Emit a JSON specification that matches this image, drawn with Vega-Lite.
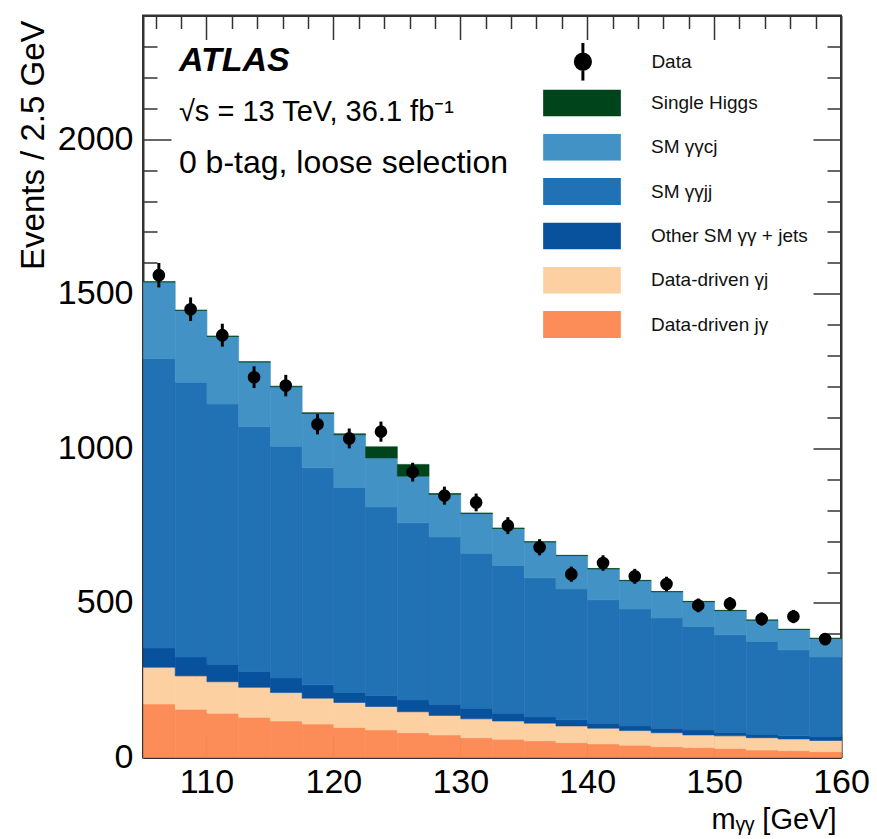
{
  "$schema": "https://vega.github.io/schema/vega-lite/v6.json",
  "width": 698,
  "height": 742,
  "autosize": {"type": "none"},
  "padding": {"left": 143, "top": 15.5, "right": 36, "bottom": 81.5},
  "background": "white",
  "datasets": {
    "bkg": [
      {"x0":105,"x1":107.5,"c":"Data-driven jγ","o":0,"v":173},{"x0":105,"x1":107.5,"c":"Data-driven γj","o":1,"v":119},{"x0":105,"x1":107.5,"c":"Other SM γγ + jets","o":2,"v":62},{"x0":105,"x1":107.5,"c":"SM γγjj","o":3,"v":936},{"x0":105,"x1":107.5,"c":"SM γγcj","o":4,"v":248},{"x0":105,"x1":107.5,"c":"Single Higgs","o":5,"v":1},
      {"x0":107.5,"x1":110,"c":"Data-driven jγ","o":0,"v":156},{"x0":107.5,"x1":110,"c":"Data-driven γj","o":1,"v":108},{"x0":107.5,"x1":110,"c":"Other SM γγ + jets","o":2,"v":61},{"x0":107.5,"x1":110,"c":"SM γγjj","o":3,"v":889},{"x0":107.5,"x1":110,"c":"SM γγcj","o":4,"v":232},{"x0":107.5,"x1":110,"c":"Single Higgs","o":5,"v":1},
      {"x0":110,"x1":112.5,"c":"Data-driven jγ","o":0,"v":143},{"x0":110,"x1":112.5,"c":"Data-driven γj","o":1,"v":102},{"x0":110,"x1":112.5,"c":"Other SM γγ + jets","o":2,"v":57},{"x0":110,"x1":112.5,"c":"SM γγjj","o":3,"v":841},{"x0":110,"x1":112.5,"c":"SM γγcj","o":4,"v":219},{"x0":110,"x1":112.5,"c":"Single Higgs","o":5,"v":1},
      {"x0":112.5,"x1":115,"c":"Data-driven jγ","o":0,"v":130},{"x0":112.5,"x1":115,"c":"Data-driven γj","o":1,"v":97},{"x0":112.5,"x1":115,"c":"Other SM γγ + jets","o":2,"v":51},{"x0":112.5,"x1":115,"c":"SM γγjj","o":3,"v":792},{"x0":112.5,"x1":115,"c":"SM γγcj","o":4,"v":209},{"x0":112.5,"x1":115,"c":"Single Higgs","o":5,"v":1},
      {"x0":115,"x1":117.5,"c":"Data-driven jγ","o":0,"v":118},{"x0":115,"x1":117.5,"c":"Data-driven γj","o":1,"v":92},{"x0":115,"x1":117.5,"c":"Other SM γγ + jets","o":2,"v":47},{"x0":115,"x1":117.5,"c":"SM γγjj","o":3,"v":750},{"x0":115,"x1":117.5,"c":"SM γγcj","o":4,"v":192},{"x0":115,"x1":117.5,"c":"Single Higgs","o":5,"v":2},
      {"x0":117.5,"x1":120,"c":"Data-driven jγ","o":0,"v":108},{"x0":117.5,"x1":120,"c":"Data-driven γj","o":1,"v":84},{"x0":117.5,"x1":120,"c":"Other SM γγ + jets","o":2,"v":43},{"x0":117.5,"x1":120,"c":"SM γγjj","o":3,"v":702},{"x0":117.5,"x1":120,"c":"SM γγcj","o":4,"v":176},{"x0":117.5,"x1":120,"c":"Single Higgs","o":5,"v":2},
      {"x0":120,"x1":122.5,"c":"Data-driven jγ","o":0,"v":97},{"x0":120,"x1":122.5,"c":"Data-driven γj","o":1,"v":81},{"x0":120,"x1":122.5,"c":"Other SM γγ + jets","o":2,"v":32},{"x0":120,"x1":122.5,"c":"SM γγjj","o":3,"v":663},{"x0":120,"x1":122.5,"c":"SM γγcj","o":4,"v":171},{"x0":120,"x1":122.5,"c":"Single Higgs","o":5,"v":3},
      {"x0":122.5,"x1":125,"c":"Data-driven jγ","o":0,"v":89},{"x0":122.5,"x1":125,"c":"Data-driven γj","o":1,"v":76},{"x0":122.5,"x1":125,"c":"Other SM γγ + jets","o":2,"v":35},{"x0":122.5,"x1":125,"c":"SM γγjj","o":3,"v":610},{"x0":122.5,"x1":125,"c":"SM γγcj","o":4,"v":159},{"x0":122.5,"x1":125,"c":"Single Higgs","o":5,"v":36},
      {"x0":125,"x1":127.5,"c":"Data-driven jγ","o":0,"v":80},{"x0":125,"x1":127.5,"c":"Data-driven γj","o":1,"v":68},{"x0":125,"x1":127.5,"c":"Other SM γγ + jets","o":2,"v":38},{"x0":125,"x1":127.5,"c":"SM γγjj","o":3,"v":573},{"x0":125,"x1":127.5,"c":"SM γγcj","o":4,"v":151},{"x0":125,"x1":127.5,"c":"Single Higgs","o":5,"v":38},
      {"x0":127.5,"x1":130,"c":"Data-driven jγ","o":0,"v":73},{"x0":127.5,"x1":130,"c":"Data-driven γj","o":1,"v":63},{"x0":127.5,"x1":130,"c":"Other SM γγ + jets","o":2,"v":36},{"x0":127.5,"x1":130,"c":"SM γγjj","o":3,"v":541},{"x0":127.5,"x1":130,"c":"SM γγcj","o":4,"v":138},{"x0":127.5,"x1":130,"c":"Single Higgs","o":5,"v":3},
      {"x0":130,"x1":132.5,"c":"Data-driven jγ","o":0,"v":64},{"x0":130,"x1":132.5,"c":"Data-driven γj","o":1,"v":61},{"x0":130,"x1":132.5,"c":"Other SM γγ + jets","o":2,"v":34},{"x0":130,"x1":132.5,"c":"SM γγjj","o":3,"v":502},{"x0":130,"x1":132.5,"c":"SM γγcj","o":4,"v":128},{"x0":130,"x1":132.5,"c":"Single Higgs","o":5,"v":2},
      {"x0":132.5,"x1":135,"c":"Data-driven jγ","o":0,"v":59},{"x0":132.5,"x1":135,"c":"Data-driven γj","o":1,"v":59},{"x0":132.5,"x1":135,"c":"Other SM γγ + jets","o":2,"v":25},{"x0":132.5,"x1":135,"c":"SM γγjj","o":3,"v":478},{"x0":132.5,"x1":135,"c":"SM γγcj","o":4,"v":120},{"x0":132.5,"x1":135,"c":"Single Higgs","o":5,"v":1},
      {"x0":135,"x1":137.5,"c":"Data-driven jγ","o":0,"v":54},{"x0":135,"x1":137.5,"c":"Data-driven γj","o":1,"v":57},{"x0":135,"x1":137.5,"c":"Other SM γγ + jets","o":2,"v":20},{"x0":135,"x1":137.5,"c":"SM γγjj","o":3,"v":450},{"x0":135,"x1":137.5,"c":"SM γγcj","o":4,"v":116},{"x0":135,"x1":137.5,"c":"Single Higgs","o":5,"v":1},
      {"x0":137.5,"x1":140,"c":"Data-driven jγ","o":0,"v":48},{"x0":137.5,"x1":140,"c":"Data-driven γj","o":1,"v":54},{"x0":137.5,"x1":140,"c":"Other SM γγ + jets","o":2,"v":20},{"x0":137.5,"x1":140,"c":"SM γγjj","o":3,"v":423},{"x0":137.5,"x1":140,"c":"SM γγcj","o":4,"v":108},{"x0":137.5,"x1":140,"c":"Single Higgs","o":5,"v":1},
      {"x0":140,"x1":142.5,"c":"Data-driven jγ","o":0,"v":44},{"x0":140,"x1":142.5,"c":"Data-driven γj","o":1,"v":51},{"x0":140,"x1":142.5,"c":"Other SM γγ + jets","o":2,"v":16},{"x0":140,"x1":142.5,"c":"SM γγjj","o":3,"v":399},{"x0":140,"x1":142.5,"c":"SM γγcj","o":4,"v":100},{"x0":140,"x1":142.5,"c":"Single Higgs","o":5,"v":1},
      {"x0":142.5,"x1":145,"c":"Data-driven jγ","o":0,"v":40},{"x0":142.5,"x1":145,"c":"Data-driven γj","o":1,"v":47},{"x0":142.5,"x1":145,"c":"Other SM γγ + jets","o":2,"v":15},{"x0":142.5,"x1":145,"c":"SM γγjj","o":3,"v":378},{"x0":142.5,"x1":145,"c":"SM γγcj","o":4,"v":92},{"x0":142.5,"x1":145,"c":"Single Higgs","o":5,"v":1},
      {"x0":145,"x1":147.5,"c":"Data-driven jγ","o":0,"v":35},{"x0":145,"x1":147.5,"c":"Data-driven γj","o":1,"v":45},{"x0":145,"x1":147.5,"c":"Other SM γγ + jets","o":2,"v":15},{"x0":145,"x1":147.5,"c":"SM γγjj","o":3,"v":356},{"x0":145,"x1":147.5,"c":"SM γγcj","o":4,"v":85},{"x0":145,"x1":147.5,"c":"Single Higgs","o":5,"v":1},
      {"x0":147.5,"x1":150,"c":"Data-driven jγ","o":0,"v":32},{"x0":147.5,"x1":150,"c":"Data-driven γj","o":1,"v":41},{"x0":147.5,"x1":150,"c":"Other SM γγ + jets","o":2,"v":16},{"x0":147.5,"x1":150,"c":"SM γγjj","o":3,"v":335},{"x0":147.5,"x1":150,"c":"SM γγcj","o":4,"v":80},{"x0":147.5,"x1":150,"c":"Single Higgs","o":5,"v":1},
      {"x0":150,"x1":152.5,"c":"Data-driven jγ","o":0,"v":29},{"x0":150,"x1":152.5,"c":"Data-driven γj","o":1,"v":41},{"x0":150,"x1":152.5,"c":"Other SM γγ + jets","o":2,"v":11},{"x0":150,"x1":152.5,"c":"SM γγjj","o":3,"v":316},{"x0":150,"x1":152.5,"c":"SM γγcj","o":4,"v":78},{"x0":150,"x1":152.5,"c":"Single Higgs","o":5,"v":1},
      {"x0":152.5,"x1":155,"c":"Data-driven jγ","o":0,"v":24},{"x0":152.5,"x1":155,"c":"Data-driven γj","o":1,"v":40},{"x0":152.5,"x1":155,"c":"Other SM γγ + jets","o":2,"v":11},{"x0":152.5,"x1":155,"c":"SM γγjj","o":3,"v":300},{"x0":152.5,"x1":155,"c":"SM γγcj","o":4,"v":69},{"x0":152.5,"x1":155,"c":"Single Higgs","o":5,"v":1},
      {"x0":155,"x1":157.5,"c":"Data-driven jγ","o":0,"v":22},{"x0":155,"x1":157.5,"c":"Data-driven γj","o":1,"v":38},{"x0":155,"x1":157.5,"c":"Other SM γγ + jets","o":2,"v":10},{"x0":155,"x1":157.5,"c":"SM γγjj","o":3,"v":278},{"x0":155,"x1":157.5,"c":"SM γγcj","o":4,"v":66},{"x0":155,"x1":157.5,"c":"Single Higgs","o":5,"v":1},
      {"x0":157.5,"x1":160,"c":"Data-driven jγ","o":0,"v":19},{"x0":157.5,"x1":160,"c":"Data-driven γj","o":1,"v":36},{"x0":157.5,"x1":160,"c":"Other SM γγ + jets","o":2,"v":13},{"x0":157.5,"x1":160,"c":"SM γγjj","o":3,"v":257},{"x0":157.5,"x1":160,"c":"SM γγcj","o":4,"v":60},{"x0":157.5,"x1":160,"c":"Single Higgs","o":5,"v":1}
    ],
    "obs": [
      {"x":106.25,"n":1560,"lo":1520.5,"hi":1599.5},
      {"x":108.75,"n":1450,"lo":1411.9,"hi":1488.1},
      {"x":111.25,"n":1366,"lo":1329,"hi":1403},
      {"x":113.75,"n":1230,"lo":1194.9,"hi":1265.1},
      {"x":116.25,"n":1203,"lo":1168.3,"hi":1237.7},
      {"x":118.75,"n":1078,"lo":1045.2,"hi":1110.8},
      {"x":121.25,"n":1032,"lo":999.9,"hi":1064.1},
      {"x":123.75,"n":1054,"lo":1021.5,"hi":1086.5},
      {"x":126.25,"n":923,"lo":892.6,"hi":953.4},
      {"x":128.75,"n":847,"lo":817.9,"hi":876.1},
      {"x":131.25,"n":825,"lo":796.3,"hi":853.7},
      {"x":133.75,"n":750,"lo":722.6,"hi":777.4},
      {"x":136.25,"n":680,"lo":653.9,"hi":706.1},
      {"x":138.75,"n":593,"lo":568.6,"hi":617.4},
      {"x":141.25,"n":629,"lo":603.9,"hi":654.1},
      {"x":143.75,"n":586,"lo":561.8,"hi":610.2},
      {"x":146.25,"n":561,"lo":537.3,"hi":584.7},
      {"x":148.75,"n":492,"lo":469.8,"hi":514.2},
      {"x":151.25,"n":497,"lo":474.7,"hi":519.3},
      {"x":153.75,"n":448,"lo":426.8,"hi":469.2},
      {"x":156.25,"n":456,"lo":434.6,"hi":477.4},
      {"x":158.75,"n":383,"lo":363.4,"hi":402.6}
    ]
  },
  "layer": [
    {
      "data": {"name": "bkg"},
      "mark": {"type": "bar", "orient": "vertical", "binSpacing": 0, "strokeWidth": 0.6},
      "encoding": {
        "x": {"field": "x0", "type": "quantitative", "bin": {"binned": true, "step": 2.5},
          "scale": {"domain": [105, 160], "nice": false, "zero": false},
          "axis": {"orient": "bottom",
            "values": [106,108,110,112,114,116,118,120,122,124,126,128,130,132,134,136,138,140,142,144,146,148,150,152,154,156,158,160],
            "format": "d",
            "labelExpr": "datum.value % 10 === 0 ? datum.label : ''",
            "tickSize": {"condition": {"test": "datum.value % 10 === 0", "value": -23}, "value": -12},
            "labelPadding": 31,
            "title": "mᵧᵧ [GeV]", "titleFontSize": 29, "titleAnchor": "end", "titleAlign": "right",
            "titleBaseline": "alphabetic", "titleX": 693, "titleY": 71}},
        "x2": {"field": "x1"},
        "y": {"field": "v", "type": "quantitative", "stack": "zero",
          "scale": {"domain": [0, 2400], "nice": false},
          "axis": {"orient": "left",
            "values": [0,100,200,300,400,500,600,700,800,900,1000,1100,1200,1300,1400,1500,1600,1700,1800,1900,2000,2100,2200,2300],
            "format": "d",
            "labelExpr": "datum.value % 500 === 0 ? datum.label : ''",
            "tickSize": {"condition": {"test": "datum.value % 500 === 0", "value": -28}, "value": -14},
            "labelPadding": 38,
            "title": "Events / 2.5 GeV", "titleFontSize": 33, "titleAngle": -90, "titleAnchor": "end",
            "titleAlign": "right", "titleBaseline": "alphabetic", "titleX": -100, "titleY": 4.5}},
        "order": {"field": "o", "type": "quantitative"},
        "color": {"field": "c", "type": "nominal",
          "scale": {"domain": ["Single Higgs","SM γγcj","SM γγjj","Other SM γγ + jets","Data-driven γj","Data-driven jγ"],
                    "range": ["#00441b","#4292c6","#2171b5","#08519c","#fdd0a2","#fc8d59"]},
          "legend": {"orient": "none", "legendX": 400, "legendY": 74, "title": null,
            "symbolType": "M-1,-0.3475H1V0.3475H-1Z", "symbolSize": 6037, "clipHeight": 27,
            "rowPadding": 17.3, "labelOffset": 30, "symbolStrokeWidth": 0, "symbolOpacity": 1,
            "labelFontSize": 19, "labelLimit": 400, "padding": 0, "direction": "vertical"}},
        "stroke": {"field": "c", "type": "nominal",
          "scale": {"domain": ["Single Higgs","SM γγcj","SM γγjj","Other SM γγ + jets","Data-driven γj","Data-driven jγ"],
                    "range": ["#00441b","#4292c6","#2171b5","#08519c","#fdd0a2","#fc8d59"]},
          "legend": null}
      }
    },
    {
      "data": {"name": "obs"},
      "mark": {"type": "rule", "color": "#000", "strokeWidth": 3},
      "encoding": {
        "x": {"field": "x", "type": "quantitative", "scale": {"domain": [105, 160], "nice": false, "zero": false}, "axis": null},
        "y": {"field": "lo", "type": "quantitative", "scale": {"domain": [0, 2400], "nice": false}, "axis": null},
        "y2": {"field": "hi"}
      }
    },
    {
      "data": {"name": "obs"},
      "mark": {"type": "point", "filled": true, "size": 160, "opacity": 1, "strokeWidth": 0},
      "encoding": {
        "x": {"field": "x", "type": "quantitative", "scale": {"domain": [105, 160], "nice": false, "zero": false},
          "axis": {"orient": "top",
            "values": [106,108,110,112,114,116,118,120,122,124,126,128,130,132,134,136,138,140,142,144,146,148,150,152,154,156,158],
            "labels": false, "title": null,
            "tickSize": {"condition": {"test": "datum.value % 10 === 0", "value": -24}, "value": -13}}},
        "y": {"field": "n", "type": "quantitative", "scale": {"domain": [0, 2400], "nice": false},
          "axis": {"orient": "right",
            "values": [0,100,200,300,400,500,600,700,800,900,1000,1100,1200,1300,1400,1500,1600,1700,1800,1900,2000,2100,2200,2300],
            "labels": false, "title": null,
            "tickSize": {"condition": {"test": "datum.value % 500 === 0", "value": -28}, "value": -14}}},
        "fill": {"datum": "Data", "type": "nominal",
          "scale": {"domain": ["Data"], "range": ["#000"]},
          "legend": {"orient": "none", "legendX": 419.4, "legendY": 27.2, "title": null,
            "symbolType": "M0,-1L0,1M0.4,0A0.4,0.4,0,1,1,-0.4,0A0.4,0.4,0,1,1,0.4,0Z",
            "symbolSize": 1444, "clipHeight": 38, "symbolFillColor": "#000", "symbolStrokeColor": "#000",
            "symbolStrokeWidth": 3, "symbolOpacity": 1, "labelOffset": 48, "labelFontSize": 19, "padding": 0,
            "encode": {"symbols": {"update": {"fill": {"value": "#000"}, "stroke": {"value": "#000"}, "strokeWidth": {"value": 3}, "size": {"value": 1444}, "shape": {"value": "M0,-1L0,1M0.4,0A0.4,0.4,0,1,1,-0.4,0A0.4,0.4,0,1,1,0.4,0Z"}}}}}}
      }
    },
    {
      "data": {"values": [{"t": "ATLAS"}]},
      "mark": {"type": "text", "font": "Liberation Sans", "fontSize": 34, "fontWeight": "bold", "fontStyle": "italic", "align": "left", "baseline": "alphabetic", "color": "#000"},
      "encoding": {
        "x": {"datum": 107.83, "type": "quantitative", "scale": {"domain": [105, 160], "nice": false, "zero": false}, "axis": null},
        "y": {"datum": 2221, "type": "quantitative", "scale": {"domain": [0, 2400], "nice": false}, "axis": null},
        "text": {"field": "t"}
      }
    },
    {
      "data": {"values": [{"t": "√s = 13 TeV, 36.1 fb⁻¹"}]},
      "mark": {"type": "text", "font": "Liberation Sans", "fontSize": 29, "align": "left", "baseline": "alphabetic", "color": "#000"},
      "encoding": {
        "x": {"datum": 107.83, "type": "quantitative", "scale": {"domain": [105, 160], "nice": false, "zero": false}, "axis": null},
        "y": {"datum": 2059, "type": "quantitative", "scale": {"domain": [0, 2400], "nice": false}, "axis": null},
        "text": {"field": "t"}
      }
    },
    {
      "data": {"values": [{"t": "0 b-tag, loose selection"}]},
      "mark": {"type": "text", "font": "Liberation Sans", "fontSize": 32, "align": "left", "baseline": "alphabetic", "color": "#000"},
      "encoding": {
        "x": {"datum": 107.83, "type": "quantitative", "scale": {"domain": [105, 160], "nice": false, "zero": false}, "axis": null},
        "y": {"datum": 1890, "type": "quantitative", "scale": {"domain": [0, 2400], "nice": false}, "axis": null},
        "text": {"field": "t"}
      }
    }
  ],
  "resolve": {"axis": {"x": "independent", "y": "independent"}},
  "config": {
    "view": {"stroke": "#333", "strokeWidth": 2},
    "font": "Liberation Sans",
    "axis": {"grid": false, "domain": true, "domainColor": "#333", "domainWidth": 2,
      "tickColor": "#333", "tickWidth": 1.5, "labelFont": "Liberation Sans", "labelFontSize": 34,
      "labelColor": "#000", "titleFont": "Liberation Sans", "titleFontWeight": "normal", "titleColor": "#000",
      "labelOverlap": false, "labelFlush": false, "labelBound": false, "zindex": 1},
    "legend": {"labelFont": "Liberation Sans", "labelColor": "#111", "labelLimit": 400}
  }
}
